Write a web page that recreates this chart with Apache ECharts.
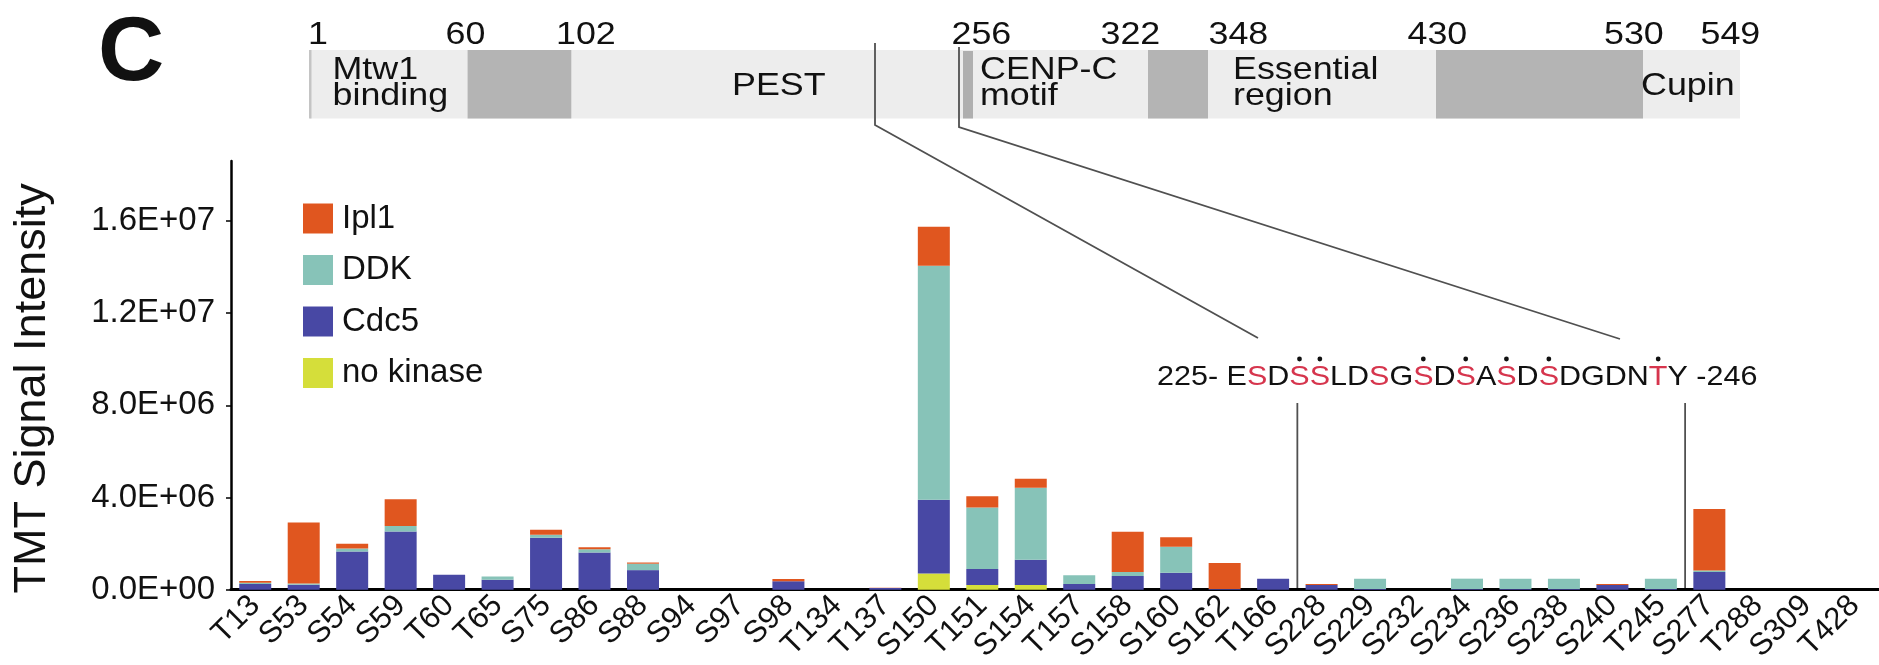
<!DOCTYPE html>
<html>
<head>
<meta charset="utf-8">
<script src="https://cdn.jsdelivr.net/npm/echarts@6.0.0/dist/echarts.min.js"></script>
<style>
html,body{margin:0;padding:0;background:#fff;}
#c{width:1879px;height:665px;}
</style>
</head>
<body>
<div id="c"></div>
<script>
// ---------------- DATA ----------------
const sites = ['T13','S53','S54','S59','T60','T65','S75','S86','S88','S94','S97','S98','T134','T137','S150','T151','S154','T157','S158','S160','S162','T166','S228','S229','S232','S234','S236','S238','S240','T245','S277','T288','S309','T428'];
const ipl1     = [0.08e6,2.65e6,0.21e6,1.16e6,0,0,0.21e6,0.08e6,0.05e6,0,0,0.10e6,0,0.02e6,1.69e6,0.49e6,0.39e6,0,1.75e6,0.42e6,1.13e6,0,0.05e6,0,0,0,0,0,0.05e6,0,2.67e6,0,0,0];
const ddk      = [0.05e6,0.05e6,0.13e6,0.24e6,0,0.14e6,0.14e6,0.14e6,0.28e6,0,0,0,0,0,10.16e6,2.67e6,3.12e6,0.38e6,0.17e6,1.12e6,0,0,0,0.45e6,0,0.45e6,0.45e6,0.45e6,0,0.45e6,0.06e6,0,0,0];
const cdc5     = [0.25e6,0.22e6,1.66e6,2.53e6,0.65e6,0.43e6,2.25e6,1.62e6,0.85e6,0,0,0.37e6,0,0.07e6,3.20e6,0.70e6,1.10e6,0.25e6,0.60e6,0.74e6,0.03e6,0.48e6,0.20e6,0.03e6,0,0.03e6,0.03e6,0.03e6,0.20e6,0.03e6,0.77e6,0,0,0];
const noKinase = [0,0,0,0,0,0,0,0,0,0,0,0,0,0,0.70e6,0.20e6,0.20e6,0,0,0,0,0,0,0,0,0,0,0,0,0,0,0,0,0];
const seriesNames = ['Ipl1','DDK','Cdc5','no kinase'];
const yTicks = [0,4e6,8e6,1.2e7,1.6e7];
const yTickLabels = ['0.0E+00','4.0E+06','8.0E+06','1.2E+07','1.6E+07'];
const yTitle = 'TMT Signal Intensity';
const panelLetter = 'C';
const domainTicks = ['1','60','102','256','322','348','430','530','549'];
const domainNames = [['Mtw1','binding'],['PEST'],['CENP-C','motif'],['Essential','region'],['Cupin']];
const seqStart = 225;
const seqEnd = 246;
const seq = 'ESDSSLDSGSDSASDSDGDNTY';
const redSites = [226,228,229,232,234,236,238,240,245];
const dotSites = [228,229,234,236,238,240,245];
const zoomFromSite = 'T166', zoomToSite = 'S228', zoomEndFrom = 'T245', zoomEndTo = 'S277';

// ---------------- STYLE / LAYOUT ----------------
const FONT = 'Liberation Sans, Arial, Helvetica, sans-serif';
const colors = {'Ipl1':'#e0561f','DDK':'#87c3b8','Cdc5':'#4848a4','no kinase':'#d5de3a'};
const TXT = '#111';
const layout = {
  bar: {x:310, y:50, w:1430, h:68.5},
  dark: [[467.6,103.7],[1148,60],[1436,207]],
  stripe: [963,10],
  tickX: [308,445.5,556,951.5,1100.5,1208.5,1407.5,1604,1700.5],
  tickY: 35,
  nameX: [332.5,732,980,1233,1641],
  lineY: [70.5,96.5],
  singleY: 86.5,
  seqX: 1157, seqY: 377.5, seqFont: 28, seqSX: 1.09, dotY: 359,
  zoomLines: [[[875,43],[875,125],[1258,338]],[[959,47],[959,127],[1620,339]]],
  vTop: 403
};

const chart = echarts.init(document.getElementById('c'), null, {renderer:'canvas'});

const dataBySeries = {'Ipl1':ipl1,'DDK':ddk,'Cdc5':cdc5,'no kinase':noKinase};
const stackOrder = ['no kinase','Cdc5','DDK','Ipl1'];

const option = {
  animation:false,
  backgroundColor:'#fff',
  textStyle:{fontFamily:FONT},
  grid:{left:231, right:0, top:161, bottom:71, containLabel:false},
  legend:{
    orient:'vertical', left:298, top:197, icon:'rect',
    itemWidth:30, itemHeight:30, itemGap:18.5,
    data:seriesNames,
    textStyle:{fontSize:33, color:TXT, fontFamily:FONT, padding:[0,0,0,4], lineHeight:30}
  },
  xAxis:{
    type:'category', data:sites,
    axisLine:{lineStyle:{color:'#000', width:3}},
    axisTick:{show:false},
    axisLabel:{rotate:45, fontSize:31, color:TXT, margin:11, interval:0, fontFamily:FONT}
  },
  yAxis:{
    type:'value', min:0, max:18.6e6, interval:4e6,
    splitLine:{show:false},
    axisLine:{show:true, lineStyle:{color:'#000', width:2.5}},
    axisTick:{show:true, length:5, lineStyle:{color:'#000', width:1.5}, customValues:yTicks},
    axisLabel:{fontSize:33, color:TXT, margin:16, fontFamily:FONT, customValues:yTicks,
      formatter:(v)=>{const i=yTicks.indexOf(v); return i>=0?yTickLabels[i]:'';}},
    name:yTitle, nameLocation:'middle', nameGap:176,
    nameTextStyle:{fontSize:45, color:TXT, fontFamily:FONT, padding:[0,26,0,0]}
  },
  series: stackOrder.map(n=>({
    name:n, type:'bar', stack:'total', barWidth:32,
    itemStyle:{color:colors[n]},
    data:dataBySeries[n]
  }))
};
chart.setOption(option);

// ---------------- ANNOTATIONS ----------------
const g = [];
// panel letter
g.push({type:'text', x:98, y:55, scaleX:1.02, style:{text:panelLetter, fontSize:90, fontWeight:'bold', fontFamily:FONT, fill:'#111', textAlign:'left', textVerticalAlign:'middle'}});
// domain bar
const B = layout.bar;
g.push({type:'rect', shape:{x:B.x, y:B.y, width:B.w, height:B.h}, style:{fill:'#ededed'}});
g.push({type:'rect', shape:{x:B.x-1, y:B.y, width:2.5, height:B.h}, style:{fill:'#c4c4c4'}});
layout.dark.forEach(d=>g.push({type:'rect', shape:{x:d[0], y:B.y, width:d[1], height:B.h}, style:{fill:'#b4b4b4'}}));
g.push({type:'rect', shape:{x:layout.stripe[0], y:B.y+1, width:layout.stripe[1], height:B.h-1}, style:{fill:'#afafaf'}});
domainTicks.forEach((t,i)=>g.push({type:'text', x:layout.tickX[i], y:layout.tickY, scaleX:1.12,
  style:{text:t, fontSize:32, fontFamily:FONT, fill:TXT, textAlign:'left', textVerticalAlign:'middle'}}));
domainNames.forEach((lines,i)=>{
  lines.forEach((ln,j)=>{
    const y = lines.length===1 ? layout.singleY : layout.lineY[j];
    g.push({type:'text', x:layout.nameX[i], y:y, scaleX:1.12,
      style:{text:ln, fontSize:32, fontFamily:FONT, fill:TXT, textAlign:'left', textVerticalAlign:'middle'}});
  });
});
// zoom lines
layout.zoomLines.forEach(p=>g.push({type:'polyline', shape:{points:p}, style:{stroke:'#505050', lineWidth:1.8, fill:null}}));

// sequence
const ctx = document.createElement('canvas').getContext('2d');
const fs = layout.seqFont;
ctx.font = fs + 'px ' + FONT;
const rich = {k:{fill:TXT, fontSize:fs, fontFamily:FONT}, r:{fill:'#d6354d', fontSize:fs, fontFamily:FONT}};
const prefix = seqStart + '- ';
let str = '{k|' + prefix + '}';
let off = ctx.measureText(prefix).width;
const centers = {};
for (let i=0;i<seq.length;i++){
  const res = seqStart+i;
  const ch = seq[i];
  const w = ctx.measureText(ch).width;
  centers[res] = off + w/2;
  off += w;
  str += (redSites.indexOf(res)>=0 ? '{r|' : '{k|') + ch + '}';
}
str += '{k| -' + seqEnd + '}';
g.push({type:'text', x:layout.seqX, y:layout.seqY, scaleX:layout.seqSX,
  style:{text:str, rich:rich, fontSize:fs, fontFamily:FONT, textAlign:'left', textVerticalAlign:'middle'}});
dotSites.forEach(r=>g.push({type:'circle', shape:{cx:layout.seqX + centers[r]*layout.seqSX, cy:layout.dotY, r:2.4}, style:{fill:'#111'}}));

// vertical lines from sequence down to category boundaries
const xb0 = (chart.convertToPixel({xAxisIndex:0}, zoomFromSite) + chart.convertToPixel({xAxisIndex:0}, zoomToSite))/2;
const xb1 = (chart.convertToPixel({xAxisIndex:0}, zoomEndFrom) + chart.convertToPixel({xAxisIndex:0}, zoomEndTo))/2;
const yBase = chart.convertToPixel({yAxisIndex:0}, 0);
[xb0, xb1].forEach(x=>g.push({type:'line', shape:{x1:x, y1:layout.vTop, x2:x, y2:yBase}, style:{stroke:'#505050', lineWidth:1.8}}));

chart.setOption({graphic:{elements:g}});
</script>
</body>
</html>
